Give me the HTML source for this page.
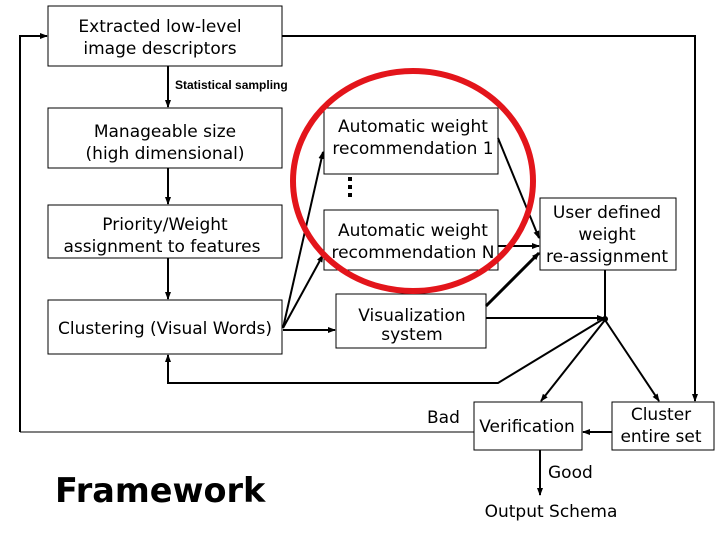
<!DOCTYPE html>
<html><head><style>
body{margin:0;background:#fff}
svg{display:block}
text{font-family:"DejaVu Sans","Liberation Sans",sans-serif;font-size:17px;fill:#000}
</style></head><body>
<svg width="720" height="540" viewBox="0 0 720 540" xmlns="http://www.w3.org/2000/svg">
<defs><marker id="a" markerWidth="8" markerHeight="8" refX="7" refY="4" orient="auto" markerUnits="userSpaceOnUse"><path d="M0,1 L8,4 L0,7 z" fill="#000"/></marker></defs>
<g fill="none" stroke="#000" stroke-width="1">
<rect x="48" y="6" width="234" height="60"/>
<rect x="48" y="108" width="234" height="60"/>
<rect x="48" y="205" width="234" height="53"/>
<rect x="48" y="300" width="234" height="54"/>
<rect x="324" y="108" width="174" height="66"/>
<rect x="324" y="210" width="174" height="60"/>
<rect x="336" y="294" width="150" height="54"/>
<rect x="540" y="198" width="136" height="72"/>
<rect x="474" y="402" width="108" height="48"/>
<rect x="612" y="402" width="102" height="48"/>
</g>
<g fill="none" stroke="#000" stroke-width="2">
<polyline points="20,432 20,36 47,36" marker-end="url(#a)"/>
<polyline points="282,36 695,36 695,401" marker-end="url(#a)"/>
<line x1="168" y1="66" x2="168" y2="107" marker-end="url(#a)"/>
<line x1="168" y1="168" x2="168" y2="204" marker-end="url(#a)"/>
<line x1="168" y1="258" x2="168" y2="299" marker-end="url(#a)"/>
<polyline points="605,318 498,383 168,383 168,355" marker-end="url(#a)"/>
<line x1="283" y1="328" x2="323" y2="152" marker-end="url(#a)"/>
<line x1="283" y1="328" x2="323" y2="255" marker-end="url(#a)"/>
<line x1="283" y1="330" x2="335" y2="330" marker-end="url(#a)"/>
<line x1="498" y1="138" x2="539" y2="238" marker-end="url(#a)"/>
<line x1="498" y1="246" x2="539" y2="246" marker-end="url(#a)"/>
<line x1="486" y1="306" x2="539" y2="253" stroke-width="3" marker-end="url(#a)"/>
<line x1="486" y1="318" x2="604" y2="318" marker-end="url(#a)"/>
<line x1="605" y1="270" x2="605" y2="318"/>
<line x1="605" y1="320" x2="541" y2="401" marker-end="url(#a)"/>
<line x1="605" y1="320" x2="659" y2="401" marker-end="url(#a)"/>
<line x1="612" y1="432" x2="583" y2="432" marker-end="url(#a)"/>
<line x1="540" y1="450" x2="540" y2="495" marker-end="url(#a)"/>
</g>
<line x1="20" y1="432" x2="474" y2="432" stroke="#000" stroke-width="1"/>
<circle cx="605" cy="319" r="3"/>
<rect x="348" y="177" width="4" height="4"/><rect x="348" y="185" width="4" height="4"/><rect x="348" y="193" width="4" height="4"/>
<ellipse cx="413" cy="181" rx="120" ry="110" fill="none" stroke="#e3151b" stroke-width="6"/>
<g text-anchor="middle">
<text x="160" y="32">Extracted low-level</text>
<text x="160" y="54">image descriptors</text>
<text x="165" y="137">Manageable size</text>
<text x="165" y="159">(high dimensional)</text>
<text x="165" y="230">Priority/Weight</text>
<text x="162" y="252">assignment to features</text>
<text x="165" y="334">Clustering (Visual Words)</text>
<text x="413" y="132">Automatic weight</text>
<text x="413" y="154">recommendation 1</text>
<text x="413" y="236">Automatic weight</text>
<text x="413" y="258">recommendation N</text>
<text x="412" y="321">Visualization</text>
<text x="412" y="340">system</text>
<text x="607" y="218">User defined</text>
<text x="607" y="240">weight</text>
<text x="607" y="262">re-assignment</text>
<text x="527" y="432">Verification</text>
<text x="661" y="420">Cluster</text>
<text x="661" y="442">entire set</text>
<text x="551" y="517">Output Schema</text>
</g>
<text x="175" y="89" style="font-size:12px;font-weight:bold;font-family:'Liberation Sans',sans-serif">Statistical sampling</text>
<text x="427" y="423">Bad</text>
<text x="548" y="478">Good</text>
<text x="55" y="502" style="font-size:33.5px;font-weight:bold">Framework</text>
</svg>
</body></html>
